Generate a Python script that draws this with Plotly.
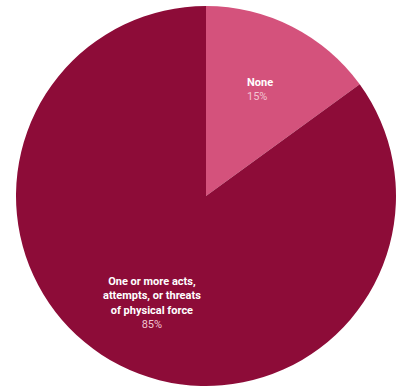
import math
import plotly.graph_objects as go

# Share of respondents by experience of physical force
labels = ["None", "One or more acts,<br>attempts, or threats<br>of physical force"]
values = [15, 85]
colors = ["#d4527c", "#8d0c38"]
label_align = ["left", "center"]

W, H = 397, 388
# pie box in pixels: left, right, bottom, top (from the bottom edge)
px_left, px_right = 16, 396
px_bottom, px_top = 2, 382
label_radius = 0.63  # fraction of the pie radius where labels sit

fig = go.Figure(
    go.Pie(
        labels=labels,
        values=values,
        sort=False,
        direction="clockwise",
        rotation=0,
        marker=dict(colors=colors, line=dict(width=0)),
        textinfo="none",
        hoverinfo="label+percent",
        domain=dict(x=[px_left / W, px_right / W], y=[px_bottom / H, px_top / H]),
    )
)

# Place each label along its slice's mid-angle
cx = (px_left + px_right) / 2
cy = (px_bottom + px_top) / 2
R = min(px_right - px_left, px_top - px_bottom) / 2
total = sum(values)
start = 0.0
annotations = []
for lab, val, al in zip(labels, values, label_align):
    mid = (start + val / 2) / total * 2 * math.pi
    start += val
    x = cx + label_radius * R * math.sin(mid)
    y = cy + label_radius * R * math.cos(mid)
    annotations.append(
        dict(
            x=x / W,
            y=y / H,
            xref="paper",
            yref="paper",
            xanchor="center",
            yanchor="middle",
            align=al,
            showarrow=False,
            text=f"<b>{lab}</b><br><span style='color:#f2c4d2'>{val}%</span>",
            font=dict(family="Roboto", size=11, color="#ffffff"),
        )
    )

fig.update_layout(
    width=W,
    height=H,
    margin=dict(l=0, r=0, t=0, b=0),
    paper_bgcolor="white",
    plot_bgcolor="white",
    showlegend=False,
    annotations=annotations,
)

fig.write_html("out.html")
